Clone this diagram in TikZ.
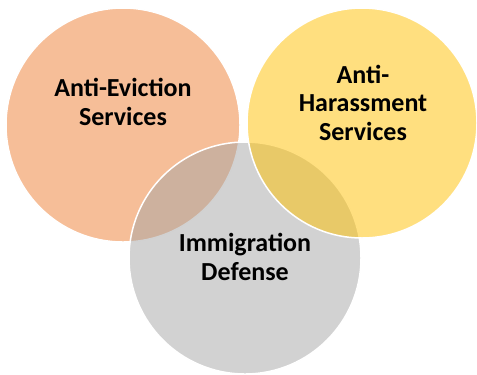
\documentclass[tikz,border=0pt]{standalone}
\usepackage{fontspec}
\setmainfont{Carlito}
\definecolor{vorange}{RGB}{237,125,49}
\definecolor{vyellow}{RGB}{255,192,0}
\definecolor{vgray}{RGB}{165,165,165}
\tikzset{
  venn/.style={circle, minimum size=232bp, inner sep=0pt, draw=white, line width=1.5bp, fill opacity=0.5, draw opacity=1},
  lbl/.style={font=\fontsize{26bp}{28.5bp}\selectfont\bfseries, align=center, anchor=base, text=black, inner sep=0pt}
}
\begin{document}
\begin{tikzpicture}[x=1bp,y=-1bp]
\useasboundingbox (0,0) rectangle (477,374);
\node[venn, fill=vorange, minimum size=234bp] (ev) at (123,125) {};
\node[venn, fill=vgray, minimum size=232bp] (im) at (245,258) {};
\node[venn, fill=vyellow, minimum size=230bp] (ha) at (362,123) {};
\node[lbl] (evt) at (123,125) {Anti-Eviction\\Services};
\node[lbl] (hat) at (363,140) {Anti-\\Harassment\\Services};
\node[lbl] (imt) at (245,280) {Immigration\\Defense};
\end{tikzpicture}
\end{document}
